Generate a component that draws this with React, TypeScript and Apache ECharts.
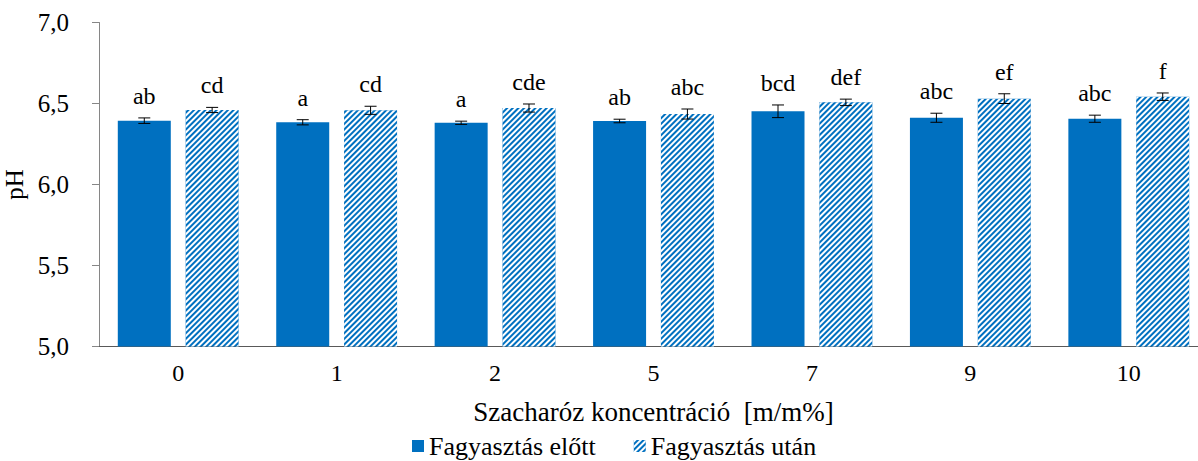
import React, { useEffect, useRef } from "react";
import * as echarts from "echarts";

const categories = ["0", "1", "2", "5", "7", "9", "10"];
const beforeValues = [6.394, 6.384, 6.381, 6.392, 6.452, 6.412, 6.406];
const beforeErrors = [0.017, 0.016, 0.01, 0.011, 0.039, 0.028, 0.022];
const beforeLetters = ["ab", "a", "a", "ab", "bcd", "abc", "abc"];
const afterValues = [6.46, 6.458, 6.472, 6.435, 6.507, 6.53, 6.542];
const afterErrors = [0.016, 0.025, 0.025, 0.031, 0.02, 0.03, 0.023];
const afterLetters = ["cd", "cd", "cde", "abc", "def", "ef", "f"];
const yTicks = [5.0, 5.5, 6.0, 6.5, 7.0];

const BLUE = "#0070C0";
const FONT = '"Liberation Serif", "Times New Roman", serif';
const BAR_W = 53;
const GAP_PCT = 28;
const OFFSET = (BAR_W + (BAR_W * GAP_PCT) / 100) / 2;

function errSeries(values: number[], errs: number[], letters: string[], dir: number) {
  return {
    type: "custom",
    silent: true,
    z: 5,
    encode: { x: 0, y: 1 },
    data: values.map((v, i) => [i, v, errs[i]]),
    renderItem: (params: any, api: any) => {
      const i = api.value(0);
      const v = api.value(1);
      const e = api.value(2);
      const c = api.coord([i, v]);
      const x = c[0] + dir * OFFSET;
      const yTop = api.coord([i, v + e])[1];
      const yBot = api.coord([i, v - e])[1];
      const ls = { stroke: "#000", lineWidth: 1 };
      return {
        type: "group",
        children: [
          { type: "line", shape: { x1: x, y1: yTop, x2: x, y2: yBot }, style: ls },
          { type: "line", shape: { x1: x - 6, y1: yTop, x2: x + 6, y2: yTop }, style: ls },
          { type: "line", shape: { x1: x - 6, y1: yBot, x2: x + 6, y2: yBot }, style: ls },
          {
            type: "text",
            x,
            y: yTop - 10,
            style: {
              text: letters[params.dataIndex],
              font: `24px ${FONT}`,
              fill: "#000",
              align: "center",
              verticalAlign: "bottom",
            },
          },
        ],
      };
    },
  };
}

export default function App() {
  const ref = useRef<HTMLDivElement>(null);
  useEffect(() => {
    if (!ref.current) return;
    const chart = echarts.init(ref.current, null, { renderer: "svg" });
    chart.setOption({
      animation: false,
      backgroundColor: "#fff",
      textStyle: { fontFamily: FONT },
      grid: {
        left: 99,
        width: 1109,
        top: 22.5,
        height: 324,
        containLabel: false,
        outerBoundsMode: "none",
      },
      legend: {
        data: ["Fagyasztás előtt", "Fagyasztás után"],
        left: 412,
        top: 433,
        padding: 0,
        itemWidth: 12,
        itemHeight: 12,
        itemGap: 38,
        icon: "rect",
        textStyle: { fontFamily: FONT, fontSize: 26, color: "#000" },
      },
      xAxis: {
        type: "category",
        data: categories,
        name: "Szacharóz koncentráció  [m/m%]",
        nameLocation: "middle",
        nameGap: 52,
        nameTextStyle: { fontFamily: FONT, fontSize: 27, color: "#000" },
        axisLine: { lineStyle: { color: "#595959", width: 1 } },
        axisTick: { show: false },
        axisLabel: { fontFamily: FONT, fontSize: 24, color: "#000", margin: 14 },
      },
      yAxis: {
        type: "value",
        min: 5,
        max: 7,
        interval: 0.5,
        name: "pH",
        nameLocation: "middle",
        nameGap: 68,
        nameTextStyle: { fontFamily: FONT, fontSize: 25, color: "#000" },
        axisLine: { show: true, lineStyle: { color: "#868686", width: 1 } },
        axisTick: { show: true, length: 7, inside: false, lineStyle: { color: "#868686" } },
        splitLine: { show: false },
        axisLabel: {
          fontFamily: FONT,
          fontSize: 25,
          color: "#000",
          margin: 30,
          formatter: (v: number) => (yTicks.includes(v) ? v.toFixed(1).replace(".", ",") : ""),
        },
      },
      series: [
        {
          name: "Fagyasztás előtt",
          type: "bar",
          data: beforeValues,
          barWidth: BAR_W,
          barGap: GAP_PCT + "%",
          itemStyle: { color: BLUE },
        },
        {
          name: "Fagyasztás után",
          type: "bar",
          data: afterValues,
          barWidth: BAR_W,
          barGap: GAP_PCT + "%",
          itemStyle: {
            color: BLUE,
            decal: {
              symbol: "rect",
              symbolSize: 1,
              color: "#ffffff",
              dashArrayX: [1, 0],
              dashArrayY: [1.8, 1.8],
              rotation: -Math.PI / 4,
            },
          },
        },
        errSeries(beforeValues, beforeErrors, beforeLetters, -1),
        errSeries(afterValues, afterErrors, afterLetters, 1),
      ],
    });
    return () => chart.dispose();
  }, []);
  return (
    <div
      ref={ref}
      style={{ position: "fixed", left: 0, top: 0, width: 1198, height: 461 }}
    />
  );
}
